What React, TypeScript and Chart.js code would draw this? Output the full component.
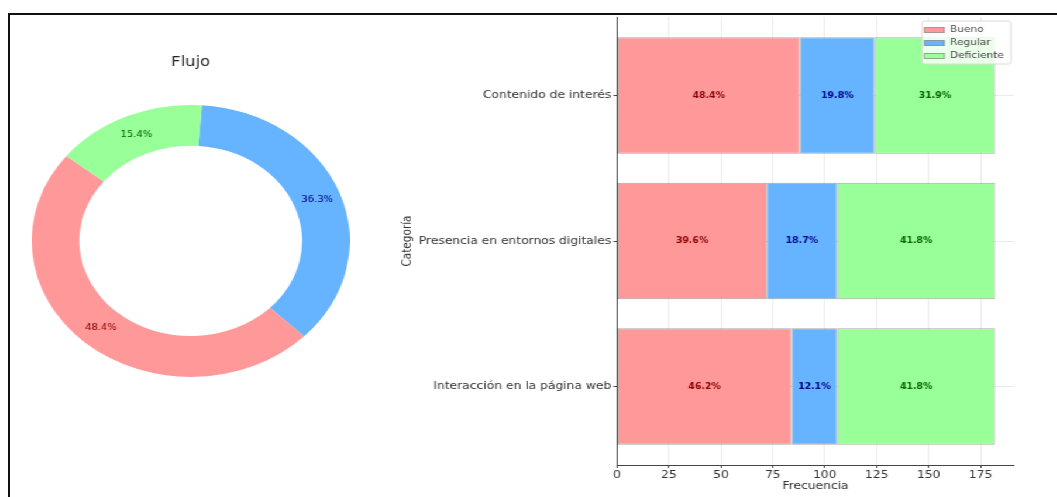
import React, { useEffect, useRef } from 'react';
import { Chart, registerables } from 'chart.js';

Chart.register(...registerables);

const FONT = "'DejaVu Sans', 'Liberation Sans', sans-serif";
Chart.defaults.font.family = FONT;

// the reference picture is stretched horizontally
const STRETCH = 1.17;

const levels = ['Bueno', 'Regular', 'Deficiente'];
const levelColors = ['#ff9999', '#66b3ff', '#99ff99'];
const levelTextColors = ['#8b0000', '#00008b', '#006400'];

// bar chart (top to bottom)
const categories = ['Contenido de interés', 'Presencia en entornos digitales', 'Interacción en la página web'];
const bueno = [88, 72, 84];
const regular = [36, 34, 22];
const deficiente = [58, 76, 76];
const xTicks = [0, 25, 50, 75, 100, 125, 150, 175];
const xTitle = 'Frecuencia';
const yTitle = 'Categoría';

// doughnut (clockwise from top)
const donutTitle = 'Flujo';
const donutLabels = ['Regular', 'Bueno', 'Deficiente'];
const donutValues = [66, 88, 28];

const donutLabelPlugin = {
  id: 'donutLabels',
  afterDatasetsDraw(chart: any) {
    const { ctx } = chart;
    const meta = chart.getDatasetMeta(0);
    const vals: number[] = chart.data.datasets[0].data;
    const total = vals.reduce((a, b) => a + b, 0);
    ctx.save();
    ctx.font = `8.5px ${FONT}`;
    ctx.textAlign = 'center';
    ctx.textBaseline = 'middle';
    meta.data.forEach((arc: any, i: number) => {
      const { x, y } = arc.getCenterPoint();
      ctx.fillStyle = levelTextColors[levels.indexOf(chart.data.labels[i])];
      ctx.fillText(((vals[i] / total) * 100).toFixed(1) + '%', x, y);
    });
    ctx.restore();
  },
};

const barLabelPlugin = {
  id: 'barLabels',
  afterDatasetsDraw(chart: any) {
    const { ctx } = chart;
    const series = chart.data.datasets;
    ctx.save();
    ctx.font = `bold 8px ${FONT}`;
    ctx.textAlign = 'center';
    ctx.textBaseline = 'middle';
    series.forEach((ds: any, k: number) => {
      const meta = chart.getDatasetMeta(k);
      meta.data.forEach((bar: any, i: number) => {
        const total = series.reduce((s: number, d: any) => s + d.data[i].x, 0);
        const pct = ((ds.data[i].x / total) * 100).toFixed(1) + '%';
        const { x, y } = bar.getCenterPoint();
        ctx.fillStyle = levelTextColors[k];
        ctx.fillText(pct, x, y);
      });
    });
    ctx.restore();
  },
};

const boxLegendPlugin = {
  id: 'boxLegend',
  afterDraw(chart: any) {
    const { ctx, chartArea } = chart;
    const w = 76;
    const h = 43;
    const left = chartArea.right - 2.6 - w;
    const top = chartArea.top + 4;
    ctx.save();
    ctx.fillStyle = 'rgba(255,255,255,0.8)';
    ctx.strokeStyle = '#d9d9d9';
    ctx.lineWidth = 1;
    ctx.beginPath();
    ctx.roundRect(left, top, w, h, 2);
    ctx.fill();
    ctx.stroke();
    chart.data.datasets.forEach((ds: any, k: number) => {
      const cy = top + 9 + k * 13;
      ctx.fillStyle = ds.backgroundColor;
      ctx.fillRect(left + 2, cy - 2.5, 17, 5);
      ctx.strokeStyle = 'rgba(110,110,110,0.6)';
      ctx.strokeRect(left + 2, cy - 2.5, 17, 5);
      ctx.fillStyle = '#444';
      ctx.font = `9px ${FONT}`;
      ctx.textAlign = 'left';
      ctx.textBaseline = 'middle';
      ctx.fillText(ds.label, left + 24, cy);
    });
    ctx.restore();
  },
};

export default function App() {
  const donutRef = useRef<HTMLCanvasElement>(null);
  const barRef = useRef<HTMLCanvasElement>(null);

  useEffect(() => {
    const donut = new Chart(donutRef.current as HTMLCanvasElement, {
      type: 'doughnut',
      data: {
        labels: donutLabels,
        datasets: [
          {
            data: donutValues,
            backgroundColor: donutLabels.map((l) => levelColors[levels.indexOf(l)]),
            borderWidth: 0,
            hoverOffset: 0,
          },
        ],
      },
      options: {
        responsive: false,
        animation: false,
        cutout: '70%',
        rotation: 4,
        layout: { padding: 0 },
        plugins: {
          legend: { display: false },
          tooltip: { enabled: false },
          title: {
            display: true,
            text: donutTitle,
            color: '#222',
            font: { family: FONT, size: 14, weight: 'normal' },
            padding: { top: 3.6, bottom: 34.4 },
          },
        },
      },
      plugins: [donutLabelPlugin],
    } as any);

    const series = [bueno, regular, deficiente];
    const bar = new Chart(barRef.current as HTMLCanvasElement, {
      type: 'bar',
      data: {
        datasets: series.map((vals, k) => ({
          label: levels[k],
          data: vals.map((v, i) => ({ x: v, y: i })),
          backgroundColor: levelColors[k],
          borderColor: 'rgba(110,110,110,0.6)',
          borderWidth: 1,
          borderSkipped: false,
          categoryPercentage: 1,
          barPercentage: 0.8,
        })),
      },
      options: {
        indexAxis: 'y',
        responsive: false,
        animation: false,
        layout: { padding: { left: 0, top: 17, right: 37.3, bottom: 0 } },
        plugins: {
          legend: { display: false },
          tooltip: { enabled: false },
        },
        scales: {
          x: {
            type: 'linear',
            stacked: true,
            min: 0,
            max: 191.1,
            z: 1,
            afterBuildTicks: (a: any) => {
              a.ticks = xTicks.map((v) => ({ value: v }));
            },
            afterFit: (s: any) => {
              s.height = 32;
            },
            ticks: {
              color: '#333',
              font: { family: FONT, size: 10.5 },
              padding: 1,
              maxRotation: 0,
              autoSkip: false,
            },
            grid: { color: 'rgba(0,0,0,0.08)', tickColor: '#444', tickLength: 3 },
            border: { color: '#444', width: 1 },
            title: {
              display: true,
              text: xTitle,
              color: '#333',
              font: { family: FONT, size: 10.5 },
              padding: { top: 0, bottom: 4 },
            },
          },
          y: {
            type: 'linear',
            stacked: true,
            reverse: true,
            offset: false,
            min: -0.54,
            max: 2.54,
            z: 1,
            afterBuildTicks: (a: any) => {
              a.ticks = categories.map((_, i) => ({ value: i }));
            },
            afterFit: (s: any) => {
              s.width = 189.4;
            },
            ticks: {
              color: '#333',
              font: { family: FONT, size: 10.5 },
              padding: 2,
              autoSkip: false,
              callback: (v: any) => categories[v],
            },
            grid: { offset: false, color: 'rgba(0,0,0,0.08)', tickColor: '#444', tickLength: 3 },
            border: { color: '#444', width: 1 },
            title: {
              display: true,
              text: yTitle,
              color: '#333',
              font: { family: FONT, size: 10.5 },
              padding: { top: 4, bottom: 0 },
            },
          },
        },
      },
      plugins: [barLabelPlugin, boxLegendPlugin],
    } as any);

    return () => {
      donut.destroy();
      bar.destroy();
    };
  }, []);

  return (
    <div
      style={{
        position: 'fixed',
        left: 0,
        top: 0,
        width: 1057,
        height: 497,
        background: '#fff',
        overflow: 'hidden',
      }}
    >
      <div
        style={{
          position: 'absolute',
          left: 8,
          top: 13,
          width: 1100,
          height: 600,
          borderTop: '2px solid #111',
          borderLeft: '2px solid #111',
        }}
      />
      <div
        style={{
          position: 'absolute',
          left: 0,
          top: 0,
          width: 904,
          height: 497,
          transform: `scaleX(${STRETCH})`,
          transformOrigin: '0 0',
        }}
      >
        <canvas
          ref={donutRef}
          width={272}
          height={327}
          style={{ position: 'absolute', left: 27.4, top: 50 }}
        />
        <canvas
          ref={barRef}
          width={566}
          height={497}
          style={{ position: 'absolute', left: 338, top: 0 }}
        />
      </div>
    </div>
  );
}
